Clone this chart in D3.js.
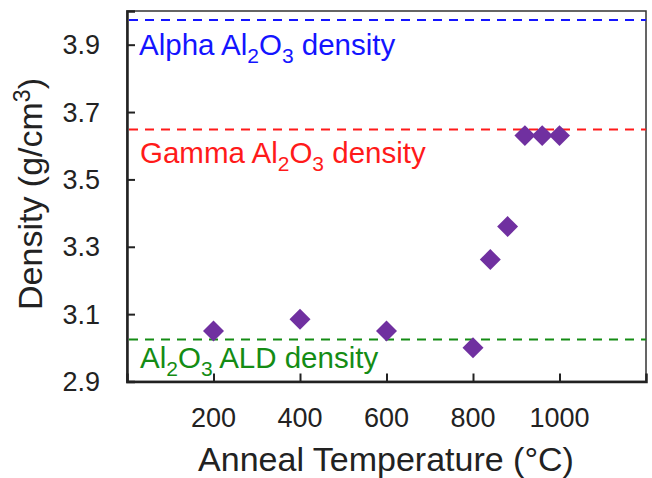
<!DOCTYPE html>
<html><head><meta charset="utf-8">
<script src="https://cdn.jsdelivr.net/npm/d3@7"></script>
<style>body{margin:0;background:#fff}svg{display:block;font-family:Arial,"Liberation Sans",sans-serif}</style>
</head><body>
<svg id="c" width="652" height="478"></svg>
<script>
const temps = [200, 400, 600, 800, 840, 880, 920, 960, 1000];
const densities = [3.05, 3.085, 3.05, 3.0, 3.262, 3.36, 3.63, 3.63, 3.63];
const refNames = ["Alpha", "Gamma", "ALD"];
const refValues = [3.973, 3.648, 3.025];
const xTicks = [200, 400, 600, 800, 1000];
const yTicks = [2.9, 3.1, 3.3, 3.5, 3.7, 3.9];

const svg = d3.select("#c");
const L = 127, R = 646, T = 11, B = 381.5;
const x = d3.scaleLinear().domain([0, 1200]).range([L, R]);
const y = d3.scaleLinear().domain([2.9, 4.0]).range([B, T]);

svg.append("rect").attr("x", L).attr("y", T).attr("width", R - L).attr("height", B - T)
  .attr("fill", "none").attr("stroke", "#333").attr("stroke-width", 1.5);

const yAxis = d3.axisRight(y).tickValues(yTicks).tickSize(8).tickFormat("");
const gy = svg.append("g").attr("transform", `translate(${L},0)`).call(yAxis);
gy.select(".domain").attr("stroke", "#222").attr("stroke-width", 2.5);
gy.selectAll(".tick line").attr("stroke", "#222").attr("stroke-width", 2);

const xAxis = d3.axisTop(x).tickValues(xTicks).tickSize(8).tickFormat("");
const gx = svg.append("g").attr("transform", `translate(0,${B})`).call(xAxis);
gx.select(".domain").attr("stroke", "#222").attr("stroke-width", 2.5);
gx.selectAll(".tick line").attr("stroke", "#222").attr("stroke-width", 2);

svg.append("g").selectAll("text").data(yTicks).join("text")
  .attr("x", 100).attr("y", d => y(d)).attr("dy", "0.36em")
  .attr("text-anchor", "end").attr("font-size", 27).attr("fill", "#222")
  .text(d => d.toFixed(1));
svg.append("g").selectAll("text").data(xTicks).join("text")
  .attr("x", d => x(d)).attr("y", 427)
  .attr("text-anchor", "middle").attr("font-size", 27).attr("fill", "#222")
  .text(d => d);

svg.append("text").attr("x", 386).attr("y", 471).attr("text-anchor", "middle")
  .attr("font-size", 34).attr("fill", "#222").text("Anneal Temperature (°C)");
const yt = svg.append("text").attr("transform", "translate(42,194) rotate(-90)")
  .attr("text-anchor", "middle").attr("font-size", 34).attr("fill", "#222");
yt.append("tspan").text("Density (g/cm");
yt.append("tspan").attr("font-size", 23).attr("dy", -12).text("3");
yt.append("tspan").attr("dy", 12).text(")");

const refColors = ["#1414ff", "#ff1a1a", "#148c14"];
svg.append("g").selectAll("line").data(refValues).join("line")
  .attr("x1", L + 2).attr("x2", R).attr("y1", d => y(d)).attr("y2", d => y(d))
  .attr("stroke", (d, i) => refColors[i]).attr("stroke-width", 2)
  .attr("stroke-dasharray", "9,7");

function alLabel(xp, yp, pre, post, color) {
  const t = svg.append("text").attr("x", xp).attr("y", yp).attr("font-size", 29.5).attr("fill", color);
  if (pre) t.append("tspan").text(pre);
  t.append("tspan").text("Al");
  t.append("tspan").attr("font-size", 21).attr("dy", 8).text("2");
  t.append("tspan").attr("dy", -8).text("O");
  t.append("tspan").attr("font-size", 21).attr("dy", 8).text("3");
  t.append("tspan").attr("dy", -8).text(post);
}
alLabel(139, 55, "Alpha ", " density", refColors[0]);
alLabel(140, 163, "Gamma ", " density", refColors[1]);
alLabel(140, 368, "", " ALD density", refColors[2]);

const sym = d3.symbol().type(d3.symbolSquare).size(220);
svg.append("g").selectAll("path").data(temps).join("path")
  .attr("d", sym)
  .attr("transform", (d, i) => `translate(${x(d)},${y(densities[i])}) rotate(45)`)
  .attr("fill", "#7030a0");
</script>
</body></html>
